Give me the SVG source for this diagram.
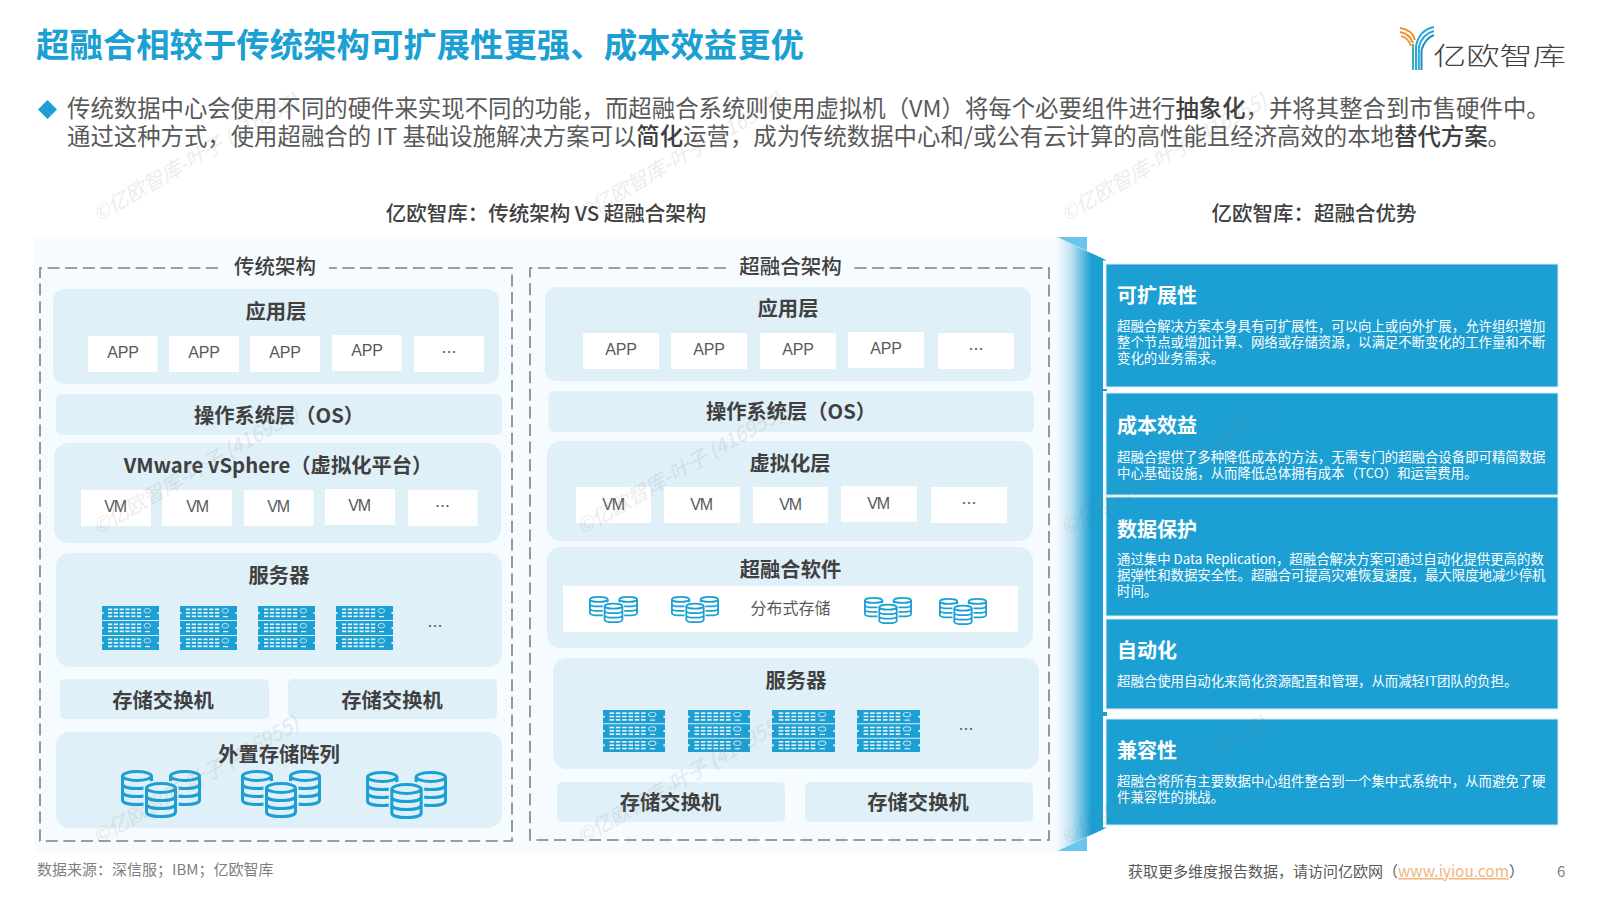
<svg xmlns="http://www.w3.org/2000/svg" width="1600" height="900" viewBox="0 0 1600 900">
<style>
text{font-family:"Noto Sans CJK SC","Liberation Sans",sans-serif}
.t{font-size:20.300px;font-weight:700;fill:#404040;text-anchor:middle}
.h{font-size:20.500px;font-weight:500;fill:#404040;text-anchor:middle}
.b{fill:#ffffff}
.l{fill:#dff0f8}
.a{font-family:"Liberation Sans",sans-serif;font-size:16px;fill:#595959;text-anchor:middle;letter-spacing:-.2px}
.v{font-family:"Liberation Sans",sans-serif;font-size:16px;fill:#595959;text-anchor:middle;letter-spacing:-1.2px}
.d{font-size:15px;fill:#595959;text-anchor:middle}
.f{fill:none;stroke:#7f7f7f;stroke-width:1.600;stroke-dasharray:12 5.600}
.c{fill:#1c9fd3;stroke:#d3ebf6;stroke-width:1}
.ct{font-size:20px;font-weight:700;fill:#ffffff}
.cb{font-size:13.400px;fill:#ffffff}
.wm{font-size:20.500px;font-style:italic;fill:#808080;opacity:.14}
.body{font-size:23.400px;fill:#595959}
.body tspan{font-weight:500;fill:#404040}
</style>
<defs>
<linearGradient id="g" x1="0" x2="1" y1="0" y2="0"><stop offset="0" stop-color="#f5fbff"/><stop offset=".3" stop-color="#c2e3f3"/><stop offset=".75" stop-color="#1c9fd3"/><stop offset="1" stop-color="#1c9fd3"/></linearGradient>
<g id="unit">
<path fill="#1c9fd3" d="M0 0H57V6H55.500V8H57V14H0V8H1.500V6H0Z"/>
<g fill="#e8f5fb"><rect x="6" y="2.500" width="4.200" height="1.700"/><rect x="11.800" y="2.500" width="4.200" height="1.700"/><rect x="17.600" y="2.500" width="4.200" height="1.700"/><rect x="23.400" y="2.500" width="4.200" height="1.700"/><rect x="29.200" y="2.500" width="4.200" height="1.700"/><rect x="35" y="2.500" width="4.200" height="1.700"/><rect x="6" y="6" width="4.200" height="1.700"/><rect x="11.800" y="6" width="4.200" height="1.700"/><rect x="17.600" y="6" width="4.200" height="1.700"/><rect x="23.400" y="6" width="4.200" height="1.700"/><rect x="29.200" y="6" width="4.200" height="1.700"/><rect x="35" y="6" width="4.200" height="1.700"/><rect x="6" y="9.500" width="4.200" height="1.700"/><rect x="11.800" y="9.500" width="4.200" height="1.700"/><rect x="17.600" y="9.500" width="4.200" height="1.700"/><rect x="23.400" y="9.500" width="4.200" height="1.700"/><rect x="29.200" y="9.500" width="4.200" height="1.700"/><rect x="35" y="9.500" width="4.200" height="1.700"/><rect x="43" y="10" width="5" height="1.200"/></g>
<ellipse cx="45.300" cy="4.800" rx="3.300" ry="2.300" fill="none" stroke="#bfe3f3" stroke-width="1"/>
</g>
<symbol id="srv" viewBox="0 0 57 44" preserveAspectRatio="none"><use href="#unit"/><use href="#unit" y="15"/><use href="#unit" y="30"/></symbol>
<g id="cyl" fill="none" stroke="#1c9fd3" stroke-width="3">
<ellipse cx="16" cy="6" rx="14.500" ry="4.500"/>
<path d="M1.500 6V30C1.500 36 30.500 36 30.500 30V6M1.500 14C1.500 20 30.500 20 30.500 14M1.500 22C1.500 28 30.500 28 30.500 22"/>
</g>
<symbol id="dbA" viewBox="0 0 80 48" preserveAspectRatio="none"><use href="#cyl"/><use href="#cyl" x="48"/><path d="M24 17C24 10 56 10 56 17V44C56 50 24 50 24 44Z" fill="#dff0f8" stroke="#dff0f8" stroke-width="3"/><use href="#cyl" x="24" y="12"/></symbol>
<symbol id="dbW" viewBox="0 0 80 48" preserveAspectRatio="none"><use href="#cyl"/><use href="#cyl" x="48"/><path d="M24 17C24 10 56 10 56 17V44C56 50 24 50 24 44Z" fill="#ffffff" stroke="#ffffff" stroke-width="3"/><use href="#cyl" x="24" y="12"/></symbol>
</defs>

<rect width="1600" height="900" fill="#ffffff"/>
<rect x="34" y="237" width="1030" height="615" fill="#f5fbff"/>

<g id="title"><text x="36" y="57" font-size="33.400" font-weight="700" fill="#1c9fd3">超融合相较于传统架构可扩展性更强、成本效益更优</text></g>

<g id="logo">
<g fill="none" stroke-width="2">
<path stroke="#ef8f2c" d="M1400 28C1408 29 1413 33 1415 40M1400 32C1406 33 1411 37 1413 43"/>
<path stroke="#e9a23b" d="M1401 36C1406 37 1409 40 1411 46"/>
<path stroke="#2aa7d8" d="M1434 27C1424 29 1418 36 1416 46V70M1434 31C1426 33 1421 39 1418.800 47V70"/>
<path stroke="#1c8fc0" d="M1434 35C1428 37 1424 42 1421.500 50V70"/>
<path stroke="#3bb3a8" d="M1413 44V70"/>
</g>
<text transform="translate(1433 65) scale(1.330 1)" font-size="25" font-weight="300" fill="#404040">亿欧智库</text>
</g>

<g id="intro">
<path d="M47.500 100L57 109.500L47.500 119L38 109.500Z" fill="#1c9fd3"/>
<text class="body" x="67" y="117">传统数据中心会使用不同的硬件来实现不同的功能，而超融合系统则使用虚拟机（VM）将每个必要组件进行<tspan>抽象化</tspan>，并将其整合到市售硬件中。</text>
<text class="body" x="67" y="145">通过这种方式，使用超融合的 IT 基础设施解决方案可以<tspan>简化</tspan>运营，成为传统数据中心和/或公有云计算的高性能且经济高效的本地<tspan>替代方案</tspan>。</text>
</g>

<text class="h" x="546" y="221">亿欧智库：传统架构 VS 超融合架构</text>
<text class="h" x="1314" y="221">亿欧智库：超融合优势</text>

<g id="traditional">
<path class="f" d="M218 268H40V841H512V268H329"/>
<text class="h" x="275" y="274">传统架构</text>
<g id="t-app">
<rect class="l" x="53" y="289" width="446" height="95" rx="12"/>
<text class="t" x="276" y="319">应用层</text>
<rect class="b" x="88" y="336" width="69.500" height="36"/><text class="a" x="123" y="358">APP</text>
<rect class="b" x="169" y="336" width="70" height="36"/><text class="a" x="204" y="358">APP</text>
<rect class="b" x="250" y="336" width="70" height="36"/><text class="a" x="285" y="358">APP</text>
<rect class="b" x="332" y="335" width="69.500" height="36"/><text class="a" x="367" y="356">APP</text>
<rect class="b" x="414" y="336" width="70" height="36"/><text class="d" x="449" y="358">…</text>
</g>
<g id="t-os"><rect class="l" x="56" y="394" width="446" height="41" rx="6"/><text class="t" x="279" y="423">操作系统层（OS）</text></g>
<g id="t-virt">
<rect class="l" x="54" y="443" width="447" height="100" rx="14"/>
<text class="t" x="278" y="473">VMware vSphere（虚拟化平台）</text>
<rect class="b" x="81" y="490" width="70" height="36"/><text class="v" x="115" y="512">VM</text>
<rect class="b" x="162" y="490" width="70" height="36"/><text class="v" x="197" y="512">VM</text>
<rect class="b" x="244" y="490" width="69.500" height="36"/><text class="v" x="278" y="512">VM</text>
<rect class="b" x="325" y="489" width="70" height="36"/><text class="v" x="359" y="511">VM</text>
<rect class="b" x="408" y="490" width="69.500" height="36"/><text class="d" x="442.500" y="512">…</text>
</g>
<g id="t-server">
<rect class="l" x="56" y="553" width="446" height="114" rx="14"/>
<text class="t" x="279" y="583">服务器</text>
<use href="#srv" x="102" y="606" width="57" height="44"/><use href="#srv" x="180" y="606" width="57" height="44"/><use href="#srv" x="258" y="606" width="57" height="44"/><use href="#srv" x="336" y="606" width="57" height="44"/>
<text class="d" x="435" y="632">…</text>
</g>
<g id="t-sw1"><rect class="l" x="60" y="679" width="209" height="40" rx="5"/><text class="t" x="163" y="708">存储交换机</text></g>
<g id="t-sw2"><rect class="l" x="288" y="679" width="209" height="40" rx="5"/><text class="t" x="392" y="708">存储交换机</text></g>
<g id="t-ext">
<rect class="l" x="56" y="732" width="446" height="96" rx="14"/>
<text class="t" x="279" y="762">外置存储阵列</text>
<use href="#dbA" x="121" y="770" width="80" height="48"/><use href="#dbA" x="241" y="770" width="80" height="48"/><use href="#dbA" x="366" y="771" width="81" height="48"/>
</g>
</g>

<g id="hyper">
<path class="f" d="M726 268H530V840H1049V268H854"/>
<text class="h" x="790.500" y="274">超融合架构</text>
<g id="h-app">
<rect class="l" x="545" y="287" width="486" height="94" rx="12"/>
<text class="t" x="788" y="316">应用层</text>
<rect class="b" x="583" y="333" width="76" height="36"/><text class="a" x="621" y="355">APP</text>
<rect class="b" x="671" y="333" width="76" height="36"/><text class="a" x="709" y="355">APP</text>
<rect class="b" x="760" y="333" width="76" height="36"/><text class="a" x="798" y="355">APP</text>
<rect class="b" x="848" y="332" width="76" height="36"/><text class="a" x="886" y="354">APP</text>
<rect class="b" x="938" y="333" width="76" height="36"/><text class="d" x="976" y="355">…</text>
</g>
<g id="h-os"><rect class="l" x="548.500" y="391" width="485.500" height="41" rx="6"/><text class="t" x="791" y="419">操作系统层（OS）</text></g>
<g id="h-virt">
<rect class="l" x="547" y="441" width="486" height="100" rx="14"/>
<text class="t" x="790" y="471">虚拟化层</text>
<rect class="b" x="576" y="487" width="75" height="36"/><text class="v" x="613" y="510">VM</text>
<rect class="b" x="664" y="487" width="76" height="36"/><text class="v" x="701" y="510">VM</text>
<rect class="b" x="753" y="487" width="75" height="36"/><text class="v" x="790" y="510">VM</text>
<rect class="b" x="841" y="486" width="76" height="36"/><text class="v" x="878" y="509">VM</text>
<rect class="b" x="931" y="487" width="76" height="36"/><text class="d" x="969" y="509">…</text>
</g>
<g id="h-sw">
<rect class="l" x="547" y="547" width="486" height="101" rx="14"/>
<text class="t" x="790.500" y="577">超融合软件</text>
<rect class="b" x="563" y="586" width="455" height="46"/>
<use href="#dbW" x="589" y="596" width="49" height="27"/><use href="#dbW" x="671" y="596" width="48" height="27"/>
<text x="790.500" y="614" font-size="16" fill="#595959" text-anchor="middle">分布式存储</text>
<use href="#dbW" x="864" y="597" width="48" height="27"/><use href="#dbW" x="939" y="598" width="48" height="27"/>
</g>
<g id="h-server">
<rect class="l" x="553" y="658" width="486" height="111" rx="14"/>
<text class="t" x="796" y="688">服务器</text>
<use href="#srv" x="603" y="710" width="62" height="42"/><use href="#srv" x="688" y="710" width="62" height="42"/><use href="#srv" x="772" y="710" width="63" height="42"/><use href="#srv" x="857" y="710" width="63" height="42"/>
<text class="d" x="966" y="735">…</text>
</g>
<g id="h-sw1"><rect class="l" x="557" y="782" width="228" height="40" rx="5"/><text class="t" x="670.500" y="810">存储交换机</text></g>
<g id="h-sw2"><rect class="l" x="805" y="782" width="228" height="40" rx="5"/><text class="t" x="918" y="810">存储交换机</text></g>
</g>

<g id="band">
<path d="M1057 237H1087V251ZM1057 851H1087V837Z" fill="#6cc5ea"/>
<path d="M1057 237L1103 259V829L1057 851Z" fill="url(#g)"/>
<g fill="#1c9fd3"><path d="M1087 251L1107 260.500H1103Z"/><path d="M1087 837L1107 827.500H1103Z"/><rect x="1103" y="389" width="4" height="2"/><rect x="1103" y="712" width="4" height="4"/></g>
</g>

<g id="card1"><rect class="c" x="1106" y="264" width="452" height="123"/>
<text class="ct" x="1117" y="303">可扩展性</text>
<text class="cb" x="1117" y="331">超融合解决方案本身具有可扩展性，可以向上或向外扩展，允许组织增加</text>
<text class="cb" x="1117" y="347">整个节点或增加计算、网络或存储资源，以满足不断变化的工作量和不断</text>
<text class="cb" x="1117" y="363">变化的业务需求。</text></g>
<g id="card2"><rect class="c" x="1106" y="393" width="452" height="102"/>
<text class="ct" x="1117" y="433">成本效益</text>
<text class="cb" x="1117" y="462">超融合提供了多种降低成本的方法，无需专门的超融合设备即可精简数据</text>
<text class="cb" x="1117" y="478">中心基础设施，从而降低总体拥有成本（TCO）和运营费用。</text></g>
<g id="card3"><rect class="c" x="1106" y="497" width="452" height="119"/>
<text class="ct" x="1117" y="537">数据保护</text>
<text class="cb" x="1117" y="564">通过集中 Data Replication，超融合解决方案可通过自动化提供更高的数</text>
<text class="cb" x="1117" y="580">据弹性和数据安全性。超融合可提高灾难恢复速度，最大限度地减少停机</text>
<text class="cb" x="1117" y="596">时间。</text></g>
<g id="card4"><rect class="c" x="1106" y="619" width="452" height="90"/>
<text class="ct" x="1117" y="658">自动化</text>
<text class="cb" x="1117" y="686">超融合使用自动化来简化资源配置和管理，从而减轻IT团队的负担。</text></g>
<g id="card5"><rect class="c" x="1106" y="719" width="452" height="106"/>
<text class="ct" x="1117" y="758">兼容性</text>
<text class="cb" x="1117" y="786">超融合将所有主要数据中心组件整合到一个集中式系统中，从而避免了硬</text>
<text class="cb" x="1117" y="802">件兼容性的挑战。</text></g>

<g id="footer">
<text x="37" y="875" font-size="15" fill="#7f7f7f">数据来源：深信服；IBM；亿欧智库</text>
<text x="1128" y="877" font-size="15" fill="#595959">获取更多维度报告数据，请访问亿欧网（<tspan fill="#f2b680" text-decoration="underline" font-size="15.400">www.iyiou.com</tspan>）</text>
<text x="1557" y="877" font-size="15" fill="#7f7f7f">6</text>
</g>

<g id="watermarks">
<text class="wm" transform="translate(98 222) rotate(-30)">©亿欧智库-叶子 (416955)</text>
<text class="wm" transform="translate(582 222) rotate(-30)">©亿欧智库-叶子 (416955)</text>
<text class="wm" transform="translate(1066 222) rotate(-30)">©亿欧智库-叶子 (416955)</text>
<text class="wm" transform="translate(98 535) rotate(-30)">©亿欧智库-叶子 (416955)</text>
<text class="wm" transform="translate(582 535) rotate(-30)">©亿欧智库-叶子 (416955)</text>
<text class="wm" transform="translate(1066 535) rotate(-30)">©亿欧智库-叶子 (416955)</text>
<text class="wm" transform="translate(98 845) rotate(-30)">©亿欧智库-叶子 (416955)</text>
<text class="wm" transform="translate(582 845) rotate(-30)">©亿欧智库-叶子 (416955)</text>
<text class="wm" transform="translate(1066 845) rotate(-30)">©亿欧智库-叶子 (416955)</text>
</g>
</svg>
